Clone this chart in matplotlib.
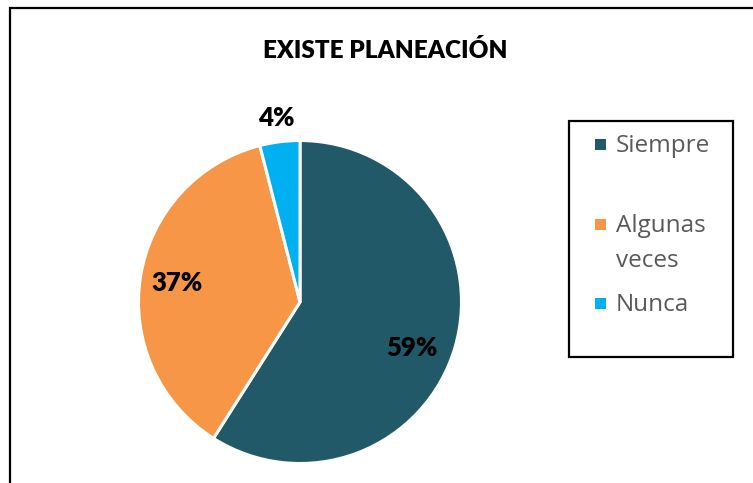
import matplotlib
matplotlib.use("Agg")
import numpy as np
import matplotlib.pyplot as plt
from matplotlib.lines import Line2D
from matplotlib.patches import Rectangle
from matplotlib.transforms import Affine2D

# Data
categories = ["Siempre", "Algunas veces", "Nunca"]
legend_labels = ["Siempre", "Algunas\nveces", "Nunca"]
values = [59, 37, 4]
colors = ["#215968", "#F79646", "#00B0F0"]
title = "EXISTE PLANEACIÓN"

W, H = 753, 483
fig = plt.figure(figsize=(W / 100, H / 100), dpi=100)
fig.patch.set_facecolor("white")

# pixel coordinates measured from the top-left corner (dpi 100 -> 1 unit = 1 px)
px = Affine2D().scale(1, -1).translate(0, H)

# chart-area border (left and top edges)
fig.add_artist(Line2D([9.5, 9.5, W], [H, 7.5, 7.5], transform=px,
                      color="black", lw=1.6, solid_joinstyle="miter"))

# pie axes: centre (300, 302), radius 161.5 px
cx, cy, r = 300, 302, 161.5
ax = fig.add_axes([(cx - r) / W, (H - cy - r) / H, 2 * r / W, 2 * r / H])
wedges, _ = ax.pie(values, colors=colors, startangle=90, counterclock=False,
                   radius=1, wedgeprops=dict(edgecolor="white", linewidth=2.2))
ax.set_xlim(-1, 1)
ax.set_ylim(-1, 1)
ax.set_aspect("equal")
ax.axis("off")

# percentage labels placed along each wedge
label_dist = [0.75, 0.77, 1.15]
label_shift = [-6, 0, 0]  # degrees
for w, v, d, s in zip(wedges, values, label_dist, label_shift):
    ang = np.deg2rad((w.theta1 + w.theta2) / 2 + s)
    ax.text(d * np.cos(ang), d * np.sin(ang), f"{v}%", ha="center", va="center",
            fontsize=18.5, fontweight=800, family="Lato", color="black",
            clip_on=False)

# title
fig.text(385, 58, title, transform=px, ha="center", va="baseline",
         fontsize=17.5, fontweight=800, family="Lato", color="black")

# legend box
fig.add_artist(Rectangle((568.5, 120.5), 164.5, 236, transform=px,
                         facecolor="white", edgecolor="black", lw=1.6))
marker_y = [144, 224, 303]
text_baseline = [152.5, 232, 311]
line_gap = 35
for lab, col, my, tb in zip(legend_labels, colors, marker_y, text_baseline):
    fig.add_artist(Rectangle((595, my - 5.5), 11, 11, transform=px,
                             facecolor=col, edgecolor="none"))
    for i, part in enumerate(lab.split("\n")):
        fig.text(616, tb + i * line_gap, part, transform=px, ha="left",
                 va="baseline", fontsize=17.5, family="Open Sans",
                 color="#595959")

fig.savefig("out.png", dpi=100, facecolor="white")
